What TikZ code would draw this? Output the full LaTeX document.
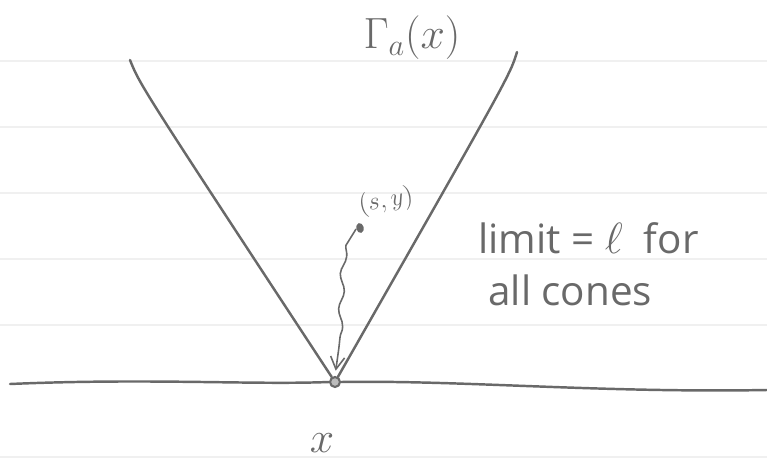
\documentclass[tikz,border=0pt]{standalone}
\usepackage{amsmath}
\usepackage{fontspec}
\setmainfont{Open Sans}
\usepackage{xcolor}
\usepackage{tikz}
\usetikzlibrary{arrows.meta,decorations.pathmorphing,shapes.geometric}
\definecolor{pencil}{RGB}{105,105,105}
\definecolor{ruling}{RGB}{240,240,240}

\begin{document}
\begin{tikzpicture}[x=0.02cm, y=-0.02cm,
  pencil line/.style={draw=pencil, line width=1.4pt, line cap=round},
  note/.style={text=pencil, inner sep=0pt}]
  \useasboundingbox (0,0) rectangle (767,466);
  % ruled paper
  \foreach \ry in {61,127,193,259,325,457}
    \draw[ruling, line width=1.6pt] (0,\ry) -- (767,\ry);
  % base line and cone
  \node[circle, draw=pencil, fill=pencil!45, line width=1.2pt, minimum size=0.2cm, inner sep=0pt] (vtx) at (335,382) {};
  \coordinate (west) at (10,384);
  \coordinate (east) at (767,390);
  \coordinate (ltop) at (130,60);
  \coordinate (rtop) at (517,52);
  \draw[pencil line] (west) .. controls (150,378) and (250,385) .. (vtx.west);
  \draw[pencil line] (vtx.east) .. controls (460,380) and (600,393) .. (east);
  \draw[pencil line] (ltop) .. controls (140,85) .. (vtx);
  \draw[pencil line] (rtop) .. controls (510,75) .. (vtx);
  % point and path
  \node[ellipse, fill=pencil, minimum width=0.15cm, minimum height=0.2cm, inner sep=0pt, rotate=15] (sy) at (360,228) {};
  \node[note, font=\fontsize{15}{17}\selectfont, rotate=10] (sylbl) at (386,201) {$(s,y)$};
  \draw[pencil, line width=0.9pt, -{Straight Barb[length=7pt,width=8pt]}, shorten >=3pt,
    decorate, decoration={snake, amplitude=1.4pt, segment length=20pt, pre length=12pt, post length=16pt}]
    (sy.west) .. controls (338,226) and (348,300) .. (vtx.north);
  % labels
  \node[note, font=\fontsize{25}{29}\selectfont] (gam) at (412,38) {$\Gamma_a(x)$};
  \node[note, anchor=west, font=\fontsize{23}{28}\selectfont] (lim) at (478,238) {limit = $\ell$\ \ for};
  \node[note, anchor=west, font=\fontsize{23}{28}\selectfont] (cones) at (488,290) {all cones};
  \node[note, font=\fontsize{24}{28}\selectfont] (xlbl) at (322,443) {$x$};
\end{tikzpicture}
\end{document}
